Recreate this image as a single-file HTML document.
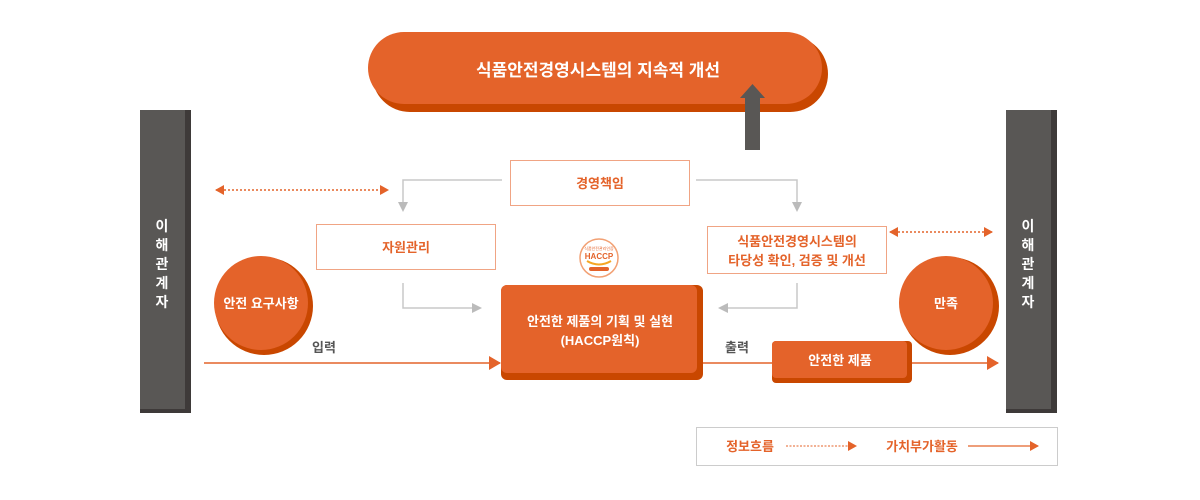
<!DOCTYPE html>
<html><head><meta charset="utf-8"><style>
html,body{margin:0;padding:0;background:#fff;}
svg{display:block;}
text{font-family:"Liberation Sans","Noto Sans CJK KR",sans-serif;}
</style></head><body>
<svg width="1200" height="500" viewBox="0 0 1200 500" xmlns="http://www.w3.org/2000/svg">
<defs>
<marker id="ag" markerWidth="10" markerHeight="10" refX="5" refY="5" orient="auto" markerUnits="userSpaceOnUse"><path d="M0,0 L10,5 L0,10 z" fill="#bbb"/></marker>
<marker id="ao" markerWidth="12" markerHeight="14" refX="11" refY="7" orient="auto" markerUnits="userSpaceOnUse"><path d="M0,0 L12,7 L0,14 z" fill="#e4632a"/></marker>
<marker id="aos" markerWidth="9" markerHeight="10" refX="8" refY="5" orient="auto-start-reverse" markerUnits="userSpaceOnUse"><path d="M0,0 L9,5 L0,10 z" fill="#e4632a"/></marker>
</defs>
<!-- top pill -->
<rect x="372" y="36" width="456" height="76" rx="38" fill="#c94700"/>
<rect x="368" y="32" width="454" height="72" rx="36" fill="#e4632a"/>
<text x="598" y="76" font-size="17" font-weight="bold" fill="#fff" text-anchor="middle">식품안전경영시스템의 지속적 개선</text>
<!-- up arrow -->
<path d="M745,150 L745,98 L740,98 L752.5,84 L765,98 L760,98 L760,150 z" fill="#595755"/>
<!-- stakeholder bars -->
<rect x="140" y="110" width="51" height="303" fill="#3e3a39"/>
<rect x="140" y="110" width="45" height="299" fill="#595755"/>
<rect x="1006" y="110" width="51" height="303" fill="#3e3a39"/>
<rect x="1006" y="110" width="45" height="299" fill="#595755"/>
<g font-size="14" font-weight="bold" fill="#fff" text-anchor="middle">
<text x="162" y="231">이</text><text x="162" y="250">해</text><text x="162" y="269">관</text><text x="162" y="288">계</text><text x="162" y="307">자</text>
<text x="1028" y="231">이</text><text x="1028" y="250">해</text><text x="1028" y="269">관</text><text x="1028" y="288">계</text><text x="1028" y="307">자</text>
</g>
<!-- boxes -->
<rect x="510.5" y="160.5" width="179" height="45" fill="#fff" stroke="#f0a484"/>
<text x="600" y="188" font-size="13" font-weight="bold" fill="#e4632a" text-anchor="middle">경영책임</text>
<rect x="316.5" y="224.5" width="179" height="45" fill="#fff" stroke="#f0a484"/>
<text x="406" y="252" font-size="13" font-weight="bold" fill="#e4632a" text-anchor="middle">자원관리</text>
<rect x="707.5" y="226.5" width="179" height="47" fill="#fff" stroke="#f0a484"/>
<text x="797" y="246" font-size="13" font-weight="bold" fill="#e4632a" text-anchor="middle">식품안전경영시스템의</text>
<text x="797" y="265" font-size="13" font-weight="bold" fill="#e4632a" text-anchor="middle">타당성 확인, 검증 및 개선</text>
<!-- gray arrows -->
<g fill="none" stroke="#c8c8c8" stroke-width="1.5">
<polyline points="502,180 403,180 403,207" marker-end="url(#ag)"/>
<polyline points="696,180 797,180 797,207" marker-end="url(#ag)"/>
<polyline points="403,283 403,308 477,308" marker-end="url(#ag)"/>
<polyline points="797,283 797,308 723,308" marker-end="url(#ag)"/>
</g>
<!-- dotted double arrows -->
<line x1="216" y1="190" x2="388" y2="190" stroke="#e4632a" stroke-width="1.5" stroke-dasharray="2,2" marker-start="url(#aos)" marker-end="url(#aos)"/>
<line x1="890" y1="232" x2="992" y2="232" stroke="#e4632a" stroke-width="1.5" stroke-dasharray="2,2" marker-start="url(#aos)" marker-end="url(#aos)"/>
<!-- circles -->
<circle cx="264" cy="306" r="49" fill="#c94700"/>
<circle cx="261" cy="303" r="47" fill="#e4632a"/>
<text x="261" y="308" font-size="13" font-weight="bold" fill="#fff" text-anchor="middle">안전 요구사항</text>
<circle cx="950" cy="306" r="49" fill="#c94700"/>
<circle cx="946" cy="303" r="47" fill="#e4632a"/>
<text x="946" y="308" font-size="13" font-weight="bold" fill="#fff" text-anchor="middle">만족</text>
<!-- lines -->
<line x1="204" y1="363" x2="500" y2="363" stroke="#e4632a" stroke-width="1.5" marker-end="url(#ao)"/>
<line x1="700" y1="363" x2="998" y2="363" stroke="#e4632a" stroke-width="1.5" marker-end="url(#ao)"/>
<text x="324" y="352" font-size="13" font-weight="bold" fill="#555" text-anchor="middle">입력</text>
<text x="737" y="352" font-size="13" font-weight="bold" fill="#555" text-anchor="middle">출력</text>
<!-- main box -->
<rect x="501" y="285" width="202" height="95" rx="6" fill="#c94700"/>
<rect x="501" y="285" width="196" height="88" rx="6" fill="#e4632a"/>
<text x="600" y="326" font-size="13" font-weight="bold" fill="#fff" text-anchor="middle">안전한 제품의 기획 및 실현</text>
<text x="600" y="345" font-size="13" font-weight="bold" fill="#fff" text-anchor="middle">(HACCP원칙)</text>
<!-- HACCP logo -->
<circle cx="599" cy="258" r="19" fill="#fff" stroke="#f2a073" stroke-width="1.5"/>
<text x="599" y="250" font-size="4" fill="#e4632a" text-anchor="middle">식품안전관리인증</text>
<text x="599" y="259" font-size="8" font-weight="bold" fill="#e4632a" text-anchor="middle">HACCP</text>
<path d="M587,261 Q599,268 611,261" stroke="#f5a623" stroke-width="2" fill="none"/>
<rect x="589" y="267" width="20" height="4" rx="2" fill="#e4632a"/>
<!-- safe product -->
<rect x="772" y="341" width="140" height="42" rx="4" fill="#c94700"/>
<rect x="772" y="341" width="135" height="37" rx="4" fill="#e4632a"/>
<text x="840" y="365" font-size="13" font-weight="bold" fill="#fff" text-anchor="middle">안전한 제품</text>
<!-- legend -->
<rect x="696.5" y="427.5" width="361" height="38" fill="#fff" stroke="#ccc"/>
<text x="750" y="451" font-size="13" font-weight="bold" fill="#e4632a" text-anchor="middle">정보흐름</text>
<line x1="786" y1="446" x2="856" y2="446" stroke="#e4632a" stroke-width="1" stroke-dasharray="2,1.5" marker-end="url(#aos)"/>
<text x="922" y="451" font-size="13" font-weight="bold" fill="#e4632a" text-anchor="middle">가치부가활동</text>
<line x1="968" y1="446" x2="1038" y2="446" stroke="#e4632a" stroke-width="1.2" marker-end="url(#aos)"/>
</svg>
</body></html>
